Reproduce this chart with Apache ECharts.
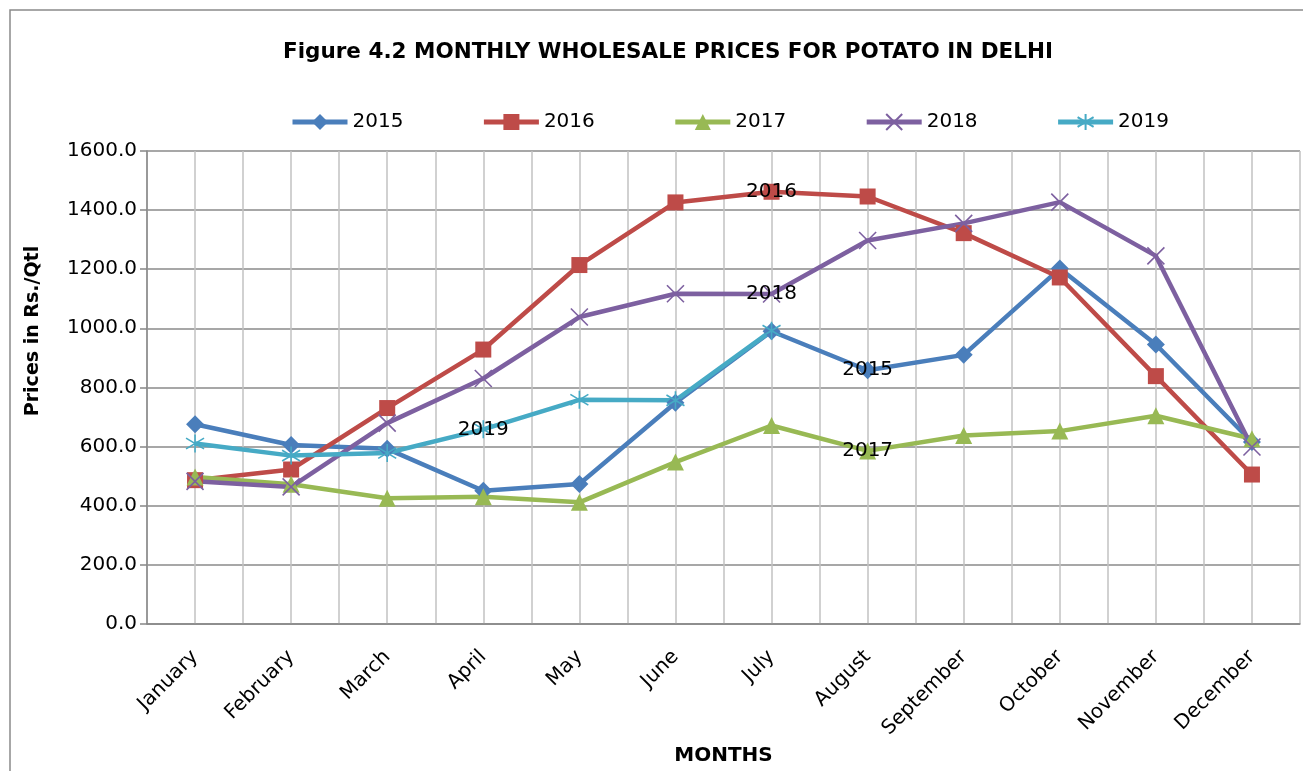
<!DOCTYPE html>
<html>
<head>
<meta charset="utf-8">
<script src="https://cdn.jsdelivr.net/npm/echarts@6/dist/echarts.min.js"></script>
<style>
  html, body { margin: 0; padding: 0; background: #fff; }
  #chart { width: 1303px; height: 771px; }
</style>
</head>
<body>
<div id="chart"></div>
<script>
const months = ['January', 'February', 'March', 'April', 'May', 'June', 'July', 'August', 'September', 'October', 'November', 'December']
const years = ['2015', '2016', '2017', '2018', '2019']
const p2015 = [675, 605, 592, 450, 473, 748, 990, 858, 910, 1202, 945, 615]
const p2016 = [486, 522, 730, 928, 1214, 1426, 1462, 1446, 1322, 1172, 838, 505]
const p2017 = [497, 472, 425, 430, 411, 547, 671, 585, 637, 652, 704, 626]
const p2018 = [482, 463, 679, 830, 1038, 1117, 1116, 1297, 1355, 1427, 1245, 598]
const p2019 = [610, 569, 578, 658, 758, 756, 992]
const yTicks = [0, 200, 400, 600, 800, 1000, 1200, 1400, 1600]
// month index where the series-name label sits
const labelAt = [7, 6, 7, 6, 3]

const colors = ['#4a7ebb', '#be4b48', '#98b954', '#7d60a0', '#46aac5']
const symbols = [
  'diamond',
  'rect',
  'triangle',
  'path://M0,0L20,20M20,0L0,20',
  'path://M10,0L10,20M1,4L19,16M19,4L1,16'
]
const symSizes = [18, 16, 17, 17, 18]
const font = 'DejaVu Sans'

const chart = echarts.init(document.getElementById('chart'))
const allData = [p2015, p2016, p2017, p2018, p2019]

const series = years.map((name, i) => {
  const stroked = i >= 3
  return {
    name,
    type: 'line',
    data: allData[i].map((v, j) => {
      if (j !== labelAt[i]) return v
      return {
        value: v,
        label: {
          show: true,
          position: 'inside',
          formatter: '{a}',
          color: '#000',
          fontFamily: font,
          fontSize: 20
        }
      }
    }),
    symbol: symbols[i],
    symbolSize: symSizes[i],
    showAllSymbol: true,
    lineStyle: { color: colors[i], width: 4.5 },
    itemStyle: {
      color: colors[i],
      borderColor: colors[i],
      borderWidth: stroked ? 1.6 : 0
    },
    emphasis: { disabled: true }
  }
})

const option = {
  backgroundColor: '#fff',
  animation: false,
  title: {
    text: 'Figure 4.2 MONTHLY WHOLESALE PRICES FOR POTATO IN DELHI',
    left: 663,
    top: 36,
    textAlign: 'center',
    textStyle: { fontFamily: font, fontWeight: 'bold', fontSize: 21.5, color: '#000' }
  },
  legend: {
    left: 285,
    top: 107,
    itemWidth: 55,
    itemHeight: 20,
    itemGap: 78,
    lineStyle: { width: 5 },
    textStyle: { fontFamily: font, fontSize: 20, color: '#000' },
    data: years
  },
  grid: { left: 147, top: 151, right: 3, bottom: 146 },
  xAxis: [
    {
      type: 'category',
      data: months,
      boundaryGap: true,
      axisLine: { lineStyle: { color: '#868686', width: 1.5 } },
      axisTick: { show: false },
      splitLine: { show: false },
      axisLabel: {
        interval: 0,
        rotate: 45,
        margin: 30,
        color: '#000',
        fontFamily: font,
        fontSize: 20
      },
      name: 'MONTHS',
      nameLocation: 'middle',
      nameGap: 116,
      nameTextStyle: { fontFamily: font, fontWeight: 'bold', fontSize: 20, color: '#000' }
    },
    {
      type: 'value',
      min: 0,
      max: 24,
      interval: 1,
      position: 'bottom',
      axisLine: { show: false },
      axisTick: { show: false },
      axisLabel: { show: false },
      splitLine: { show: true, lineStyle: { color: '#c2c2c2', width: 1.5 } }
    }
  ],
  yAxis: {
    type: 'value',
    min: yTicks[0],
    max: yTicks[yTicks.length - 1],
    interval: yTicks[1] - yTicks[0],
    axisLine: { show: true, lineStyle: { color: '#868686', width: 1.5 } },
    axisTick: { show: true, length: 7, lineStyle: { color: '#868686', width: 1.5 } },
    axisLabel: {
      margin: 10,
      color: '#000',
      fontFamily: font,
      fontSize: 20,
      formatter: (v) => v.toFixed(1)
    },
    splitLine: { lineStyle: { color: '#8a8a8a', width: 1.5 } }
  },
  graphic: [
    {
      type: 'rect',
      shape: { x: 10, y: 10, width: 1400, height: 900 },
      style: { fill: 'none', stroke: '#8a8a8a', lineWidth: 1.5 },
      silent: true,
      z: -10
    },
    {
      type: 'text',
      x: 33,
      y: 331,
      rotation: Math.PI / 2,
      style: {
        text: 'Prices in Rs./Qtl',
        fontFamily: font,
        fontWeight: 'bold',
        fontSize: 19,
        fill: '#000',
        align: 'center',
        verticalAlign: 'middle'
      }
    }
  ],
  series
}

chart.setOption(option)
</script>
</body>
</html>
